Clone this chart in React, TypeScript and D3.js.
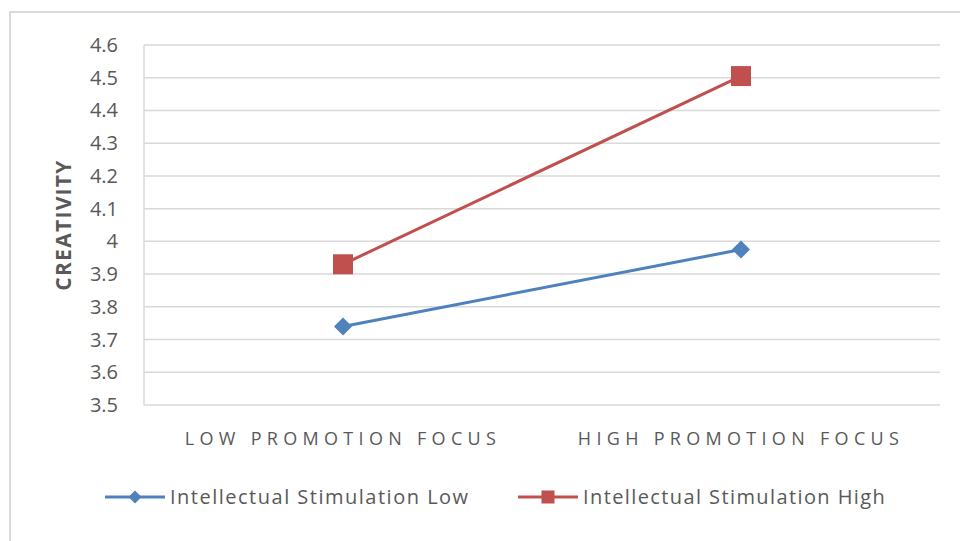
import React from "react";
import * as d3 from "d3";

const categories = ["LOW PROMOTION FOCUS", "HIGH PROMOTION FOCUS"];
const seriesNames = ["Intellectual Stimulation Low", "Intellectual Stimulation High"];
const lowValues = [3.74, 3.975];
const highValues = [3.93, 4.505];
const yTicks = [3.5, 3.6, 3.7, 3.8, 3.9, 4.0, 4.1, 4.2, 4.3, 4.4, 4.5, 4.6];
const colors = ["#4f81bd", "#c0504d"];

const W = 960;
const H = 541;
const plot = { left: 144, right: 940, top: 45, bottom: 405 };
const FONT = "'Open Sans', 'Liberation Sans', sans-serif";
const TXT = "#595959";

export default function App() {
  const x = d3.scaleBand<string>().domain(categories).range([plot.left, plot.right]).padding(0);
  const y = d3.scaleLinear().domain([3.5, 4.6]).range([plot.bottom, plot.top]);
  const cx = (c: string) => (x(c) as number) + x.bandwidth() / 2;
  const line = d3
    .line<number>()
    .x((_, i) => cx(categories[i]))
    .y((v) => y(v));
  const series = [lowValues, highValues];
  const fmt = (v: number) => String(+v.toFixed(1));

  const diamond = (px: number, py: number, r: number) =>
    `M${px},${py - r}L${px + r},${py}L${px},${py + r}L${px - r},${py}Z`;

  const marker = (s: number, px: number, py: number, size: number, key: string) =>
    s === 0 ? (
      <path key={key} d={diamond(px, py, size * 0.5)} fill={colors[0]} />
    ) : (
      <rect key={key} x={px - size / 2} y={py - size / 2} width={size} height={size} fill={colors[1]} />
    );

  const legendItems = [
    { lx: 105, tx: 170, ls: 1.5 },
    { lx: 518, tx: 583, ls: 1.4 },
  ];
  const legendY = 497;

  return (
    <svg
      width={W}
      height={H}
      style={{ position: "absolute", left: 0, top: 0, background: "#fff" }}
      fontFamily={FONT}
    >
      <rect x={0} y={0} width={W} height={H} fill="#fff" />
      <path d={`M10,${H}L10,12L${W},12`} fill="none" stroke="#d9d9d9" strokeWidth={2} />
      {yTicks.map((t) => (
        <line key={t} x1={plot.left} x2={plot.right} y1={y(t)} y2={y(t)} stroke="#d9d9d9" strokeWidth={1.5} />
      ))}
      <line x1={plot.left} x2={plot.left} y1={plot.top} y2={plot.bottom} stroke="#d9d9d9" strokeWidth={1.5} />
      {yTicks.map((t) => (
        <text key={"l" + t} x={118} y={y(t)} dy="0.35em" textAnchor="end" fontSize={20} fill={TXT}>
          {fmt(t)}
        </text>
      ))}
      <text
        transform={`translate(71,225) rotate(-90)`}
        textAnchor="middle"
        fontSize={21}
        fontWeight="bold"
        letterSpacing={1.3}
        fill={TXT}
      >
        CREATIVITY
      </text>
      {categories.map((c) => (
        <text key={c} x={cx(c)} y={445} textAnchor="middle" fontSize={18} letterSpacing={5.3} fill={TXT}>
          {c}
        </text>
      ))}
      {series.map((vals, s) => (
        <g key={s}>
          <path d={line(vals) as string} fill="none" stroke={colors[s]} strokeWidth={3} />
          {vals.map((v, i) => marker(s, cx(categories[i]), y(v), s === 0 ? 18 : 20, `m${s}${i}`))}
        </g>
      ))}
      {legendItems.map((it, s) => (
        <g key={"leg" + s}>
          <line x1={it.lx} x2={it.lx + 60} y1={legendY} y2={legendY} stroke={colors[s]} strokeWidth={3} />
          {marker(s, it.lx + 30, legendY, 13, `lm${s}`)}
          <text x={it.tx} y={legendY} dy="0.35em" fontSize={20} letterSpacing={it.ls} fill={TXT}>
            {seriesNames[s]}
          </text>
        </g>
      ))}
    </svg>
  );
}
